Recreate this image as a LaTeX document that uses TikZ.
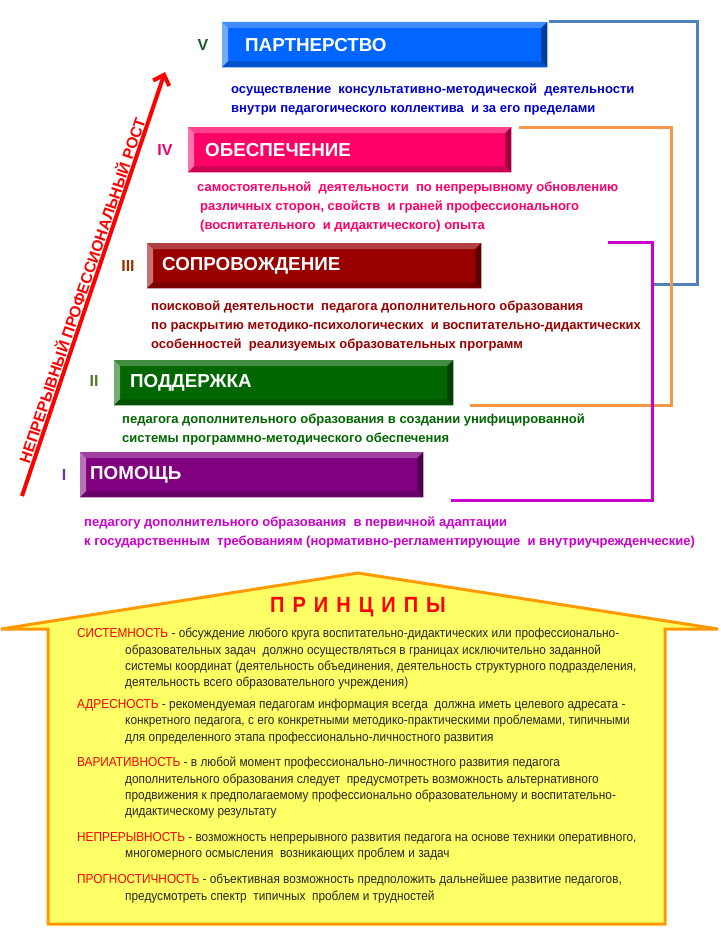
\documentclass[tikz,border=0pt]{standalone}
\usepackage{fontspec}
\setmainfont{Liberation Sans}
\newfontfamily\narrowfont[FakeStretch=0.91]{Liberation Sans}
\usetikzlibrary{arrows.meta, calc}
\definecolor{partblue}{HTML}{0066FF}
\definecolor{obespink}{HTML}{FF0066}
\definecolor{soprred}{HTML}{990000}
\definecolor{poddgreen}{HTML}{006600}
\definecolor{pomviolet}{HTML}{800080}
\definecolor{descblue}{HTML}{0000CC}
\definecolor{descpink}{HTML}{FF0066}
\definecolor{descred}{HTML}{990000}
\definecolor{descgreen}{HTML}{006600}
\definecolor{descmag}{HTML}{CC00CC}
\definecolor{romfive}{HTML}{1F5A2A}
\definecolor{romfour}{HTML}{E8006E}
\definecolor{romthree}{HTML}{993300}
\definecolor{romtwo}{HTML}{4F7A28}
\definecolor{romone}{HTML}{7030A0}
\definecolor{brkblue}{HTML}{4F81BD}
\definecolor{brkorange}{HTML}{F79646}
\definecolor{brkmag}{HTML}{CC00CC}
\definecolor{housefill}{HTML}{FFFF66}
\definecolor{houseline}{HTML}{FF9900}
\definecolor{keyred}{HTML}{FF0000}
\definecolor{prntext}{HTML}{262626}
\newcommand\prkey[1]{\textcolor{keyred}{#1}}
\tikzset{
  bar/.style={anchor=north west, inner sep=0pt, minimum height=45pt},
  bartitle/.style={anchor=west, inner sep=0pt, text=white, font=\bfseries\fontsize{18.8}{18.8}\selectfont},
  roman/.style={inner sep=0pt, font=\bfseries\fontsize{16}{16}\selectfont},
  desc/.style={anchor=north west, inner sep=0pt, align=left, font=\bfseries\fontsize{13}{19}\selectfont},
  brk/.style={line width=3pt, line join=miter},
  growth/.style={red, line width=4pt, -{Straight Barb[length=9pt, width=17pt]}},
  growlabel/.style={inner sep=0pt, text=red, font=\bfseries\fontsize{15.5}{15.5}\selectfont},
  house/.style={fill=housefill, draw=houseline, line width=3pt, line join=miter},
  prtitle/.style={inner sep=0pt, text=keyred, font=\narrowfont\bfseries\fontsize{22}{22}\selectfont},
  prin/.style={anchor=north west, inner sep=0pt, align=left, text=prntext, font=\narrowfont\fontsize{13}{16.3}\selectfont},
}

\begin{document}
\begin{tikzpicture}[x=1pt, y=-1pt]
  \useasboundingbox (0,0) rectangle (720,934);
  % connecting brackets on the right
  \coordinate (bluetop) at (697,22);
  \coordinate (blueend) at (653,284);
  \coordinate (orangetop) at (671,127);
  \coordinate (orangeend) at (470,405);
  \coordinate (magstart) at (608,242);
  \coordinate (magtop) at (652,242);
  \coordinate (magend) at (451,500);
  % the five stages, beveled bars
  \foreach \nm/\l/\t/\r/\col/\dx/\ttl in {
      five/222/22/547/partblue/23/ПАРТНЕРСТВО,
      four/188/127/511/obespink/17/ОБЕСПЕЧЕНИЕ,
      three/147/243/481/soprred/15/СОПРОВОЖДЕНИЕ,
      two/114/360/453/poddgreen/16/ПОДДЕРЖКА,
      one/80/452/423/pomviolet/10/ПОМОЩЬ}{
    \node[bar, fill=\col, minimum width={(\r-\l)*1pt}] (\nm) at (\l,\t) {};
    \fill[\col!75!white] (\nm.north west) -- (\nm.north east) -- ([shift={(-6,6)}]\nm.north east) -- ([shift={(6,6)}]\nm.north west) -- cycle;
    \fill[\col!55!white] (\nm.north west) -- ([shift={(6,6)}]\nm.north west) -- ([shift={(6,-6)}]\nm.south west) -- (\nm.south west) -- cycle;
    \fill[\col!60!black] (\nm.north east) -- (\nm.south east) -- ([shift={(-6,-6)}]\nm.south east) -- ([shift={(-6,6)}]\nm.north east) -- cycle;
    \fill[\col!80!black] (\nm.south west) -- ([shift={(6,-6)}]\nm.south west) -- ([shift={(-6,-6)}]\nm.south east) -- (\nm.south east) -- cycle;
    \node[bartitle] (\nm-title) at ([xshift=\dx pt]\nm.west) {\ttl};
  }
  \draw[brk, brkblue] ([xshift=2pt]five.north east) -- (bluetop) |- (blueend);
  \draw[brk, brkorange] ([xshift=8pt]four.north east) -- (orangetop) |- (orangeend);
  \draw[brk, brkmag] (magstart) -- (magtop) |- (magend);
  % stage numbers
  \foreach \nm/\x/\y/\col/\txt in {
      five/203/45/romfive/V, four/165/150/romfour/IV, three/128/266/romthree/III,
      two/94/381/romtwo/II, one/64/475/romone/I}
    \node[roman, text=\col] (rom-\nm) at (\x,\y) {\txt};
  % what each stage means
  \node[desc, text=descblue] (desc-five) at (231,84)
    {осуществление\ \ консультативно-методической\ \ деятельности\\
     внутри педагогического коллектива\ \ и за его пределами};
  \node[desc, text=descpink] (desc-four) at (197,182)
    {самостоятельной\ \ деятельности\ \ по непрерывному обновлению\\
     \hspace*{3pt}различных сторон, свойств\ \ и граней профессионального\\
     \hspace*{3pt}(воспитательного\ \ и дидактического) опыта};
  \node[desc, text=descred] (desc-three) at (151,301)
    {поисковой деятельности\ \ педагога дополнительного образования\\
     по раскрытию методико-психологических\ \ и воспитательно-дидактических\\
     особенностей\ \ реализуемых образовательных программ};
  \node[desc, text=descgreen] (desc-two) at (122,414)
    {педагога дополнительного образования в создании унифицированной\\
     системы программно-методического обеспечения};
  \node[desc, text=descmag] (desc-one) at (84,517)
    {педагогу дополнительного образования\ \ в первичной адаптации\\
     к государственным\ \ требованиям (нормативно-регламентирующие\ \ и внутриучрежденческие)};
  % growth arrow
  \coordinate (growstart) at (22,496);
  \coordinate (growend) at (165,72);
  \draw[growth] (growstart) -- (growend);
  \node[growlabel, rotate=71.3] (growtext) at (81,290) {НЕПРЕРЫВНЫЙ ПРОФЕССИОНАЛЬНЫЙ РОСТ};
  % principles house
  \draw[house] (48,924) -- (48,629) -- (1,629) -- (358,573) -- (718,629) -- (665,629) -- (665,924) -- cycle;
  \node[prtitle] (principles) at (358,607) {П\hspace{8pt}Р\hspace{8pt}И\hspace{8pt}Н\hspace{8pt}Ц\hspace{8pt}И\hspace{8pt}П\hspace{8pt}Ы};
  \node[prin] (pr-sys) at (77,628)
    {\prkey{СИСТЕМНОСТЬ} - обсуждение любого круга воспитательно-дидактических или профессионально-\\
     \hspace*{48pt}образовательных задач\ \ должно осуществляться в границах исключительно заданной\\
     \hspace*{48pt}системы координат (деятельность объединения, деятельность структурного подразделения,\\
     \hspace*{48pt}деятельность всего образовательного учреждения)};
  \node[prin] (pr-adr) at (77,699)
    {\prkey{АДРЕСНОСТЬ} - рекомендуемая педагогам информация всегда\ \ должна иметь целевого адресата -\\
     \hspace*{48pt}конкретного педагога, с его конкретными методико-практическими проблемами, типичными\\
     \hspace*{48pt}для определенного этапа профессионально-личностного развития};
  \node[prin] (pr-var) at (77,757)
    {\prkey{ВАРИАТИВНОСТЬ} - в любой момент профессионально-личностного развития педагога\\
     \hspace*{48pt}дополнительного образования следует\ \ предусмотреть возможность альтернативного\\
     \hspace*{48pt}продвижения к предполагаемому профессионально образовательному и воспитательно-\\
     \hspace*{48pt}дидактическому результату};
  \node[prin] (pr-nep) at (77,832)
    {\prkey{НЕПРЕРЫВНОСТЬ} - возможность непрерывного развития педагога на основе техники оперативного,\\
     \hspace*{48pt}многомерного осмысления\ \ возникающих проблем и задач};
  \node[prin] (pr-prg) at (77,874)
    {\prkey{ПРОГНОСТИЧНОСТЬ} - объективная возможность предположить дальнейшее развитие педагогов,\\
     \hspace*{48pt}предусмотреть спектр\ \ типичных\ \ проблем и трудностей};
\end{tikzpicture}
\end{document}
